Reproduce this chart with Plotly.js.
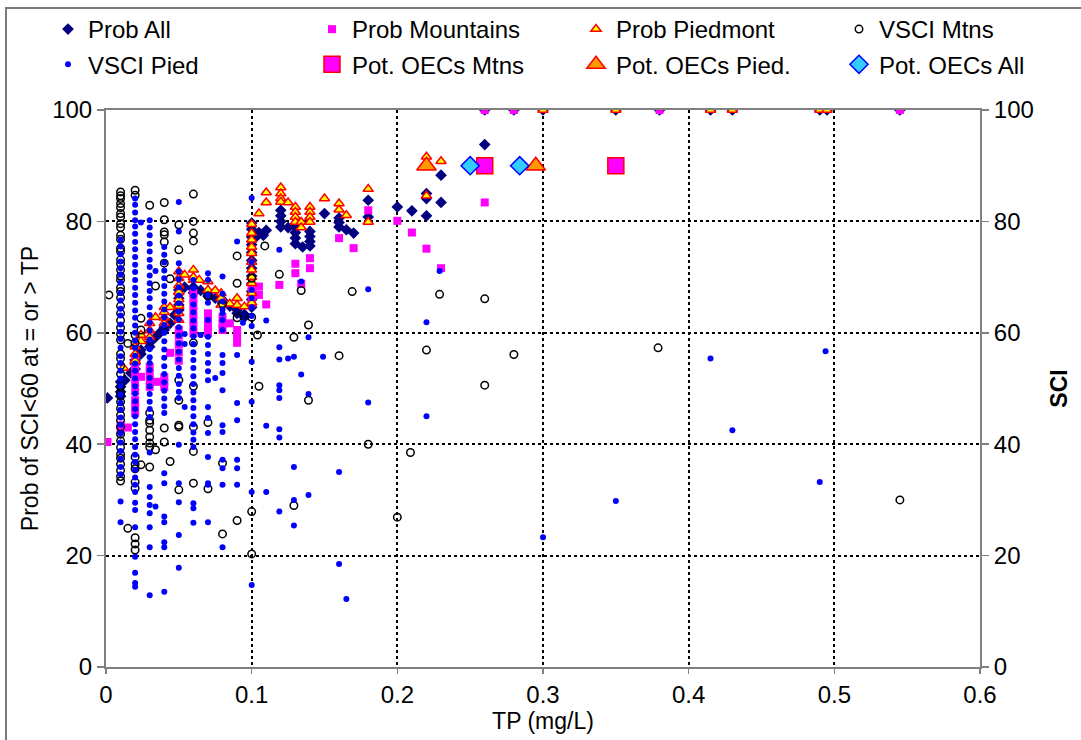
<!DOCTYPE html>
<html>
<head>
<meta charset="utf-8">
<script src="https://cdn.plot.ly/plotly-3.0.1.min.js"></script>
<style>
  html, body { margin: 0; padding: 0; background: #ffffff; }
  #wrap { position: relative; width: 1081px; height: 740px; overflow: hidden; }
  #chart { position: absolute; left: 0; top: 0; width: 1081px; height: 740px; }
  #frame { position: absolute; left: 5px; top: 7px; width: 1200px; height: 800px;
           border: 2px solid #7a7a7a; pointer-events: none; }
</style>
</head>
<body>
<div id="wrap">
  <div id="chart"></div>
  <div id="frame"></div>
</div>
<script>
// ---------- DATA (TP in mg/L; values grouped by TP) ----------
const probAllTP = [0.001, 0.01, 0.013, 0.017, 0.02, 0.024, 0.03, 0.034, 0.037, 0.04, 0.044, 0.047, 0.05, 0.054, 0.06, 0.065, 0.07, 0.075, 0.08, 0.085, 0.09, 0.095, 0.1, 0.103, 0.105, 0.108, 0.11, 0.12, 0.125, 0.13, 0.135, 0.14, 0.15, 0.16, 0.165, 0.17, 0.18, 0.2, 0.21, 0.22, 0.23, 0.26, 0.28, 0.3, 0.35, 0.38, 0.415, 0.43, 0.49, 0.495, 0.545];
const probAllVal = [[48.3], [48.6, 49.4, 50.3, 51.2], [51.5], [52.8], [53.5, 54.4, 55.1], [56.2, 56.9], [57.5, 58.2], [59.2], [60.0], [60.5, 61.0], [61.7], [63.2], [64.1, 65.0, 66.2, 67.0, 67.7], [68.2], [67.2, 67.8, 68.2], [67.6], [67.1, 66.6], [66.2], [65.9, 65.3], [64.8], [64.1, 63.5], [62.8, 63.3], [64.6, 66.0, 67.4, 68.8, 70.2, 71.6, 73.0, 74.4, 75.8, 77.2, 78.6, 79.7], [77.2], [78.0], [77.5], [78.4], [82.0, 81.0, 80.0, 79.0], [78.9], [79.0, 78.0, 77.0, 76.0], [75.4], [78.2, 77.3, 76.4, 75.6], [81.4], [80.6, 79.8, 79.0], [78.5], [77.9], [83.8, 80.8], [82.6], [81.9], [85.0, 84.1, 81.0], [88.3, 83.4], [93.8, 100], [100], [100], [100], [100], [100], [100], [100], [100], [100]];

const probMtnTP = [0.001, 0.01, 0.015, 0.02, 0.024, 0.03, 0.035, 0.04, 0.044, 0.05, 0.06, 0.07, 0.08, 0.085, 0.09, 0.1, 0.105, 0.11, 0.119, 0.13, 0.134, 0.14, 0.16, 0.17, 0.18, 0.2, 0.21, 0.22, 0.23, 0.26, 0.28, 0.38, 0.545];
const probMtnVal = [[40.4], [42.5, 43.4], [43.0], [45.6, 46.8, 47.9, 49.5, 51.0, 52.5, 54.0, 55.5], [52.1], [50.3, 51.5, 52.7, 53.9], [51.2], [50.3, 51.2, 52.0], [56.4], [55.0, 56.5, 58.0, 59.5, 60.5], [59.9, 61.2, 62.4, 63.7, 65.0, 66.2, 67.1], [59.9, 61.1, 62.3, 63.5], [60.5, 61.6, 62.8], [61.7], [58.2, 59.4, 60.5], [65.3, 66.5, 67.4, 68.2], [68.3, 66.8], [65.1], [68.6], [72.4, 70.7], [68.8], [73.4, 71.6], [77.0], [75.2], [82.0], [80.1], [78.0], [75.1], [71.6], [83.4, 100], [100], [100], [100]];

const probPiedTP = [0.012, 0.02, 0.024, 0.03, 0.034, 0.04, 0.044, 0.05, 0.054, 0.06, 0.064, 0.07, 0.075, 0.079, 0.085, 0.09, 0.095, 0.1, 0.105, 0.11, 0.12, 0.125, 0.13, 0.134, 0.14, 0.15, 0.16, 0.165, 0.18, 0.22, 0.23, 0.3, 0.35, 0.415, 0.43, 0.49, 0.495];
const probPiedVal = [[53.7], [55.0, 56.2, 57.5], [58.5, 59.6], [59.2, 60.4, 61.7], [62.8], [61.7, 62.7, 63.7, 64.6], [64.6], [62.3, 63.5, 64.8, 66.0, 67.3, 68.5, 69.8, 71.0], [70.4], [69.5, 70.0, 71.3], [69.5], [69.2, 67.7], [67.6], [67.1, 66.2, 65.0], [65.2], [66.2, 65.0], [64.7], [65.4, 67.1, 68.9, 70.0, 71.3, 72.7, 74.3, 75.4, 76.7, 77.9, 79.5], [81.4], [85.2, 83.4], [86.1, 85.0, 84.1, 83.5], [83.4], [82.6, 81.7, 80.8, 79.9], [79.9, 78.9], [82.6, 81.7, 80.8, 79.9], [84.1], [83.2, 82.1], [81.1], [85.8, 79.9], [91.6, 84.6], [90.8], [100], [100], [100], [100], [100], [100]];

const vsciMtnTP = [0.002, 0.01, 0.015, 0.02, 0.024, 0.03, 0.034, 0.04, 0.044, 0.05, 0.06, 0.07, 0.08, 0.09, 0.1, 0.104, 0.105, 0.109, 0.119, 0.129, 0.134, 0.139, 0.16, 0.169, 0.18, 0.2, 0.209, 0.22, 0.229, 0.26, 0.28, 0.379, 0.545];
const vsciMtnVal = [[66.8], [85.3, 84.6, 84.1, 83.2, 82.5, 81.4, 80.8, 79.6, 78.9, 77.5, 76.8, 75.2, 74.6, 73.1, 72.4, 71.3, 70.2, 69.5, 68.1, 67.4, 66.3, 64.8, 63.5, 62.2, 60.9, 59.8, 58.7, 56.2, 55.4, 54.1, 52.6, 50.3, 49.1, 47.6, 46.4, 45.2, 44.3, 43.1, 41.8, 40.6, 39.4, 38.2, 37.5, 36.4, 35.3, 34.2, 33.4], [58.1, 24.9], [85.6, 84.7, 59.6, 58.2, 37.7, 36.4, 35.6, 33.2, 32.1, 23.2, 22.1, 21.0], [62.6, 60.5, 36.3], [82.9, 45.6, 44.3, 43.8, 42.5, 41.3, 40.2, 39.5, 35.9], [68.4, 39.0], [83.4, 80.3, 78.1, 77.6, 76.3, 72.5, 42.9, 40.4], [69.7, 36.9], [79.4, 74.9, 51.5, 47.9, 43.4, 43.1, 31.8], [84.9, 80.0, 77.9, 76.5, 58.2, 50.4, 43.1, 38.7, 33.0], [66.6, 43.9, 32.0], [65.2, 36.6, 23.9], [73.8, 68.9, 62.7, 26.3], [69.8, 62.8, 27.9, 20.3], [59.6], [50.4], [75.6], [70.5], [59.2, 29.0], [67.6], [61.4, 47.9], [55.9], [67.4], [40.0], [26.9], [38.5], [56.9], [66.9], [66.1, 50.6], [56.1], [57.3], [30.0]];

const vsciPiedTP = [0.01, 0.02, 0.024, 0.03, 0.034, 0.04, 0.05, 0.054, 0.06, 0.065, 0.07, 0.075, 0.08, 0.09, 0.094, 0.1, 0.11, 0.119, 0.125, 0.129, 0.134, 0.139, 0.149, 0.16, 0.165, 0.18, 0.22, 0.229, 0.3, 0.35, 0.415, 0.43, 0.49, 0.494];
const vsciPiedVal = [[76.7, 75.5, 74.1, 72.8, 71.6, 70.4, 69.0, 67.2, 65.8, 64.3, 63.1, 61.5, 60.2, 58.9, 57.3, 55.8, 54.6, 53.2, 51.8, 50.5, 48.9, 47.4, 46.2, 44.8, 43.5, 41.9, 40.3, 38.8, 37.4, 35.9, 34.6, 29.7, 26.0], [84.1, 83.0, 81.6, 80.2, 79.1, 77.8, 76.3, 75.0, 73.6, 72.2, 70.9, 69.5, 68.1, 66.8, 65.4, 64.0, 62.7, 61.3, 60.0, 58.6, 57.3, 55.9, 54.5, 53.2, 51.8, 50.4, 49.1, 47.7, 46.3, 45.0, 43.6, 42.2, 40.9, 39.5, 38.1, 36.8, 35.4, 34.0, 32.7, 31.4, 29.5, 28.2, 25.1, 19.8, 16.9, 15.1, 14.4], [79.8], [80.2, 78.9, 77.5, 76.0, 74.6, 73.1, 71.8, 70.3, 68.9, 67.5, 66.2, 64.6, 63.2, 61.8, 60.4, 58.8, 57.1, 55.6, 54.6, 53.3, 51.9, 50.4, 49.0, 47.6, 46.3, 44.9, 38.5, 32.3, 30.5, 29.1, 27.6, 25.1, 21.5, 12.9], [71.1, 28.8], [75.4, 74.0, 72.6, 71.2, 69.8, 68.4, 67.0, 65.6, 64.2, 62.8, 61.4, 60.0, 58.5, 57.0, 55.5, 54.0, 52.6, 51.1, 49.6, 48.2, 46.8, 45.6, 34.8, 33.0, 27.0, 26.0, 22.4, 21.5, 13.5], [83.5, 78.2, 72.5, 71.0, 69.6, 68.2, 66.7, 65.3, 63.8, 62.4, 61.0, 59.5, 58.1, 56.6, 55.2, 53.7, 52.3, 50.8, 49.4, 48.3, 39.9, 33.0, 29.6, 23.7, 17.8], [59.8, 58.0, 46.7], [69.5, 68.0, 66.6, 65.1, 63.7, 62.2, 60.8, 59.4, 58.0, 56.5, 55.1, 53.7, 52.2, 50.8, 49.3, 47.9, 46.5, 45.0, 43.6, 42.1, 40.8, 39.5, 29.4, 28.5, 25.9], [59.6], [70.7, 69.5, 66.8, 65.4, 62.3, 59.3, 57.8, 56.2, 54.6, 53.1, 51.5, 46.7, 44.7, 42.0, 37.7, 33.0, 32.7, 26.0], [51.9], [70.1, 67.0, 65.6, 64.2, 63.5, 62.3, 60.5, 56.0, 54.6, 52.8, 49.7, 43.4, 42.2, 37.2, 35.7, 32.7, 21.5], [76.4, 56.0, 47.4, 44.3, 37.2, 35.7, 32.7], [61.8], [84.2, 72.7, 67.7, 66.2, 64.6, 63.0, 61.2, 54.8, 47.6, 31.4, 14.7], [62.2, 43.3, 31.4], [74.9, 57.4, 55.2, 50.6, 49.7, 48.3, 42.7, 41.2, 27.9], [55.4], [55.7, 35.9, 30.0, 25.4], [69.2, 52.5], [59.2, 49.0, 30.9], [55.7], [35.0, 18.5], [12.2], [67.8, 47.5], [61.9, 45.0], [71.1], [23.3], [29.8], [55.4], [42.5], [33.2], [56.7]];

const oecMtnTP = [0.26, 0.35];
const oecMtnVal = [90, 90];
const oecPiedTP = [0.22, 0.295];
const oecPiedVal = [90, 90];
const oecAllTP = [0.25, 0.284];
const oecAllVal = [90, 90];

const xTickVals = [0, 0.1, 0.2, 0.3, 0.4, 0.5, 0.6];
const xTickText = ['0', '0.1', '0.2', '0.3', '0.4', '0.5', '0.6'];
const yTickVals = [0, 20, 40, 60, 80, 100];
const yTickText = ['0', '20', '40', '60', '80', '100'];

// ---------- helpers ----------
function flatten(tps, vals) {
  const xs = [], ys = [];
  tps.forEach((t, i) => vals[i].forEach(v => { xs.push(t); ys.push(v); }));
  return { x: xs, y: ys };
}

const FONT = 'Arial, "Liberation Sans", sans-serif';
const pa = flatten(probAllTP, probAllVal);
const pm = flatten(probMtnTP, probMtnVal);
const pp = flatten(probPiedTP, probPiedVal);
const vm = flatten(vsciMtnTP, vsciMtnVal);
const vp = flatten(vsciPiedTP, vsciPiedVal);

const traces = [
  { name: 'Prob All', x: pa.x, y: pa.y, type: 'scatter', mode: 'markers', yaxis: 'y',
    legend: 'legend', legendgroup: 'a',
    marker: { symbol: 'diamond', size: 9, color: '#000080', line: { width: 0 } } },
  { name: 'Prob Mountains', x: pm.x, y: pm.y, type: 'scatter', mode: 'markers', yaxis: 'y',
    legend: 'legend2', legendgroup: 'b',
    marker: { symbol: 'square', size: 8, color: '#FF00FF', line: { width: 0 } } },
  { name: 'Prob Piedmont', x: pp.x, y: pp.y, type: 'scatter', mode: 'markers', yaxis: 'y',
    legend: 'legend3', legendgroup: 'c',
    marker: { symbol: 'triangle-up', size: 9, color: '#FFFF00', line: { width: 1.5, color: '#FF0000' } } },
  { name: 'VSCI Mtns', x: vm.x, y: vm.y, type: 'scatter', mode: 'markers', yaxis: 'y2',
    legend: 'legend4', legendgroup: 'd',
    marker: { symbol: 'circle', size: 7.5, color: 'rgba(255,255,255,0)', line: { width: 1.5, color: '#000000' } } },
  { name: 'VSCI Pied', x: vp.x, y: vp.y, type: 'scatter', mode: 'markers', yaxis: 'y2',
    legend: 'legend', legendgroup: 'e',
    marker: { symbol: 'circle', size: 6, color: '#0000FF', line: { width: 0 } } },
  { name: 'Pot. OECs Mtns', x: oecMtnTP, y: oecMtnVal, type: 'scatter', mode: 'markers', yaxis: 'y2',
    legend: 'legend2', legendgroup: 'f',
    marker: { symbol: 'square', size: 16, color: '#FF00FF', line: { width: 1.5, color: '#FF0000' } } },
  { name: 'Pot. OECs Pied.', x: oecPiedTP, y: oecPiedVal, type: 'scatter', mode: 'markers', yaxis: 'y2',
    legend: 'legend3', legendgroup: 'g',
    marker: { symbol: 'triangle-up', size: 17, color: '#FF9900', line: { width: 1.5, color: '#FF0000' } } },
  { name: 'Pot. OECs All', x: oecAllTP, y: oecAllVal, type: 'scatter', mode: 'markers', yaxis: 'y2',
    legend: 'legend4', legendgroup: 'h',
    marker: { symbol: 'diamond', size: 14, color: '#33CCFF', line: { width: 1.5, color: '#0000FF' } } }
];

const PLOT_L = 106, PLOT_W = 874;
function legendAt(xpx) {
  return {
    xref: 'paper', yref: 'container', x: (xpx - PLOT_L) / PLOT_W, y: 1 - 7 / 740,
    xanchor: 'left', yanchor: 'top', orientation: 'v',
    traceorder: 'grouped', tracegroupgap: 1,
    bgcolor: 'rgba(0,0,0,0)', borderwidth: 0,
    font: { family: FONT, size: 24, color: '#000000' }
  };
}

const gridStyle = { showgrid: true, gridcolor: '#000000', gridwidth: 2, griddash: 'dot' };

const layout = {
  width: 1081, height: 740,
  margin: { l: 106, r: 101, t: 110, b: 73, pad: 0 },
  paper_bgcolor: '#ffffff', plot_bgcolor: '#ffffff',
  font: { family: FONT, size: 24, color: '#000000' },
  showlegend: true,
  legend: legendAt(48),
  legend2: legendAt(312),
  legend3: legendAt(576),
  legend4: legendAt(839),
  xaxis: Object.assign({
    range: [0, 0.6], tickvals: xTickVals, ticktext: xTickText,
    showline: true, linecolor: '#808080', linewidth: 2, mirror: true,
    ticks: 'outside', ticklen: 5, tickcolor: '#808080', tickwidth: 1.5,
    zeroline: false, tickfont: { family: FONT, size: 24 },
    title: { text: 'TP (mg/L)', font: { family: FONT, size: 23 }, standoff: 4 }
  }, gridStyle),
  yaxis: Object.assign({
    range: [0, 100], tickvals: yTickVals, ticktext: yTickText,
    showline: true, linecolor: '#808080', linewidth: 2,
    ticks: 'outside', ticklen: 7, tickcolor: '#808080', tickwidth: 1.5,
    zeroline: false, tickfont: { family: FONT, size: 24 },
    title: { text: 'Prob of SCI<60 at = or > TP', font: { family: FONT, size: 23 }, standoff: 7 }
  }, gridStyle),
  yaxis2: {
    overlaying: 'y', side: 'right', range: [0, 100], tickvals: yTickVals, ticktext: yTickText,
    showline: true, linecolor: '#808080', linewidth: 2,
    ticks: 'outside', ticklen: 7, tickcolor: '#808080', tickwidth: 1.5,
    showgrid: false, zeroline: false, tickfont: { family: FONT, size: 24 },
    title: { text: '<b>SCI</b>', font: { family: FONT, size: 23 }, standoff: 18 }
  }
};

Plotly.newPlot('chart', traces, layout, { staticPlot: true, displayModeBar: false });
</script>
</body>
</html>
